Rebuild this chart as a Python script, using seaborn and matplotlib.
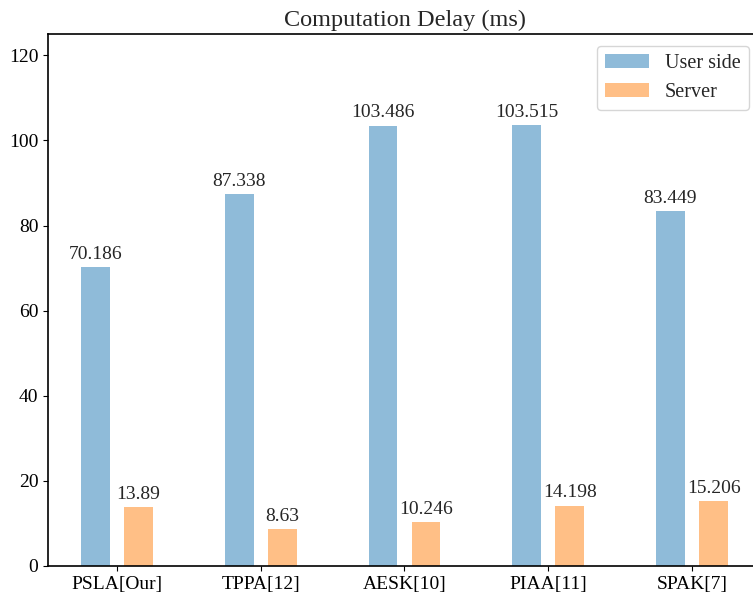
import pandas as pd
import matplotlib
matplotlib.use("Agg")
import matplotlib.pyplot as plt
import seaborn as sns

schemes = ["PSLA[Our]", "TPPA[12]", "AESK[10]", "PIAA[11]", "SPAK[7]"]
user_side = [70.186, 87.338, 103.486, 103.515, 83.449]
server = [13.89, 8.63, 10.246, 14.198, 15.206]
series_names = ["User side", "Server"]
colors = ["#8fbbd9", "#ffbf86"]

df = pd.DataFrame({
    "Scheme": schemes * 2,
    "Delay": user_side + server,
    "Side": [series_names[0]] * len(schemes) + [series_names[1]] * len(schemes),
})

sns.set_style("ticks")
plt.rcParams["font.family"] = ["Liberation Serif", "DejaVu Serif"]

fig = plt.figure(figsize=(7.53, 6.04), dpi=100)
ax = fig.add_axes([48 / 753, 38 / 604, 713 / 753, 532 / 604])

sns.barplot(data=df, x="Scheme", y="Delay", hue="Side", palette=colors,
            width=0.6, gap=0.333, saturation=1, linewidth=0, ax=ax)

for container in ax.containers:
    ax.bar_label(container, fmt="%g", padding=3, fontsize=14)

ax.set_xlim(-0.48, 4.48)
ax.set_ylim(0, 125)
ax.set_yticks(range(0, 121, 20))
ax.set_xlabel("")
ax.set_ylabel("")
ax.set_title("Computation Delay (ms)", fontsize=17.5, pad=6)
ax.tick_params(labelsize=14, colors="black")
for s in ax.spines.values():
    s.set_color("black")
    s.set_linewidth(1.2)

ax.legend(title=None, loc="upper right", fontsize=14.5, handlelength=2.2,
          borderaxespad=0.6)

fig.savefig("out.png", dpi=100)
plt.close(fig)
